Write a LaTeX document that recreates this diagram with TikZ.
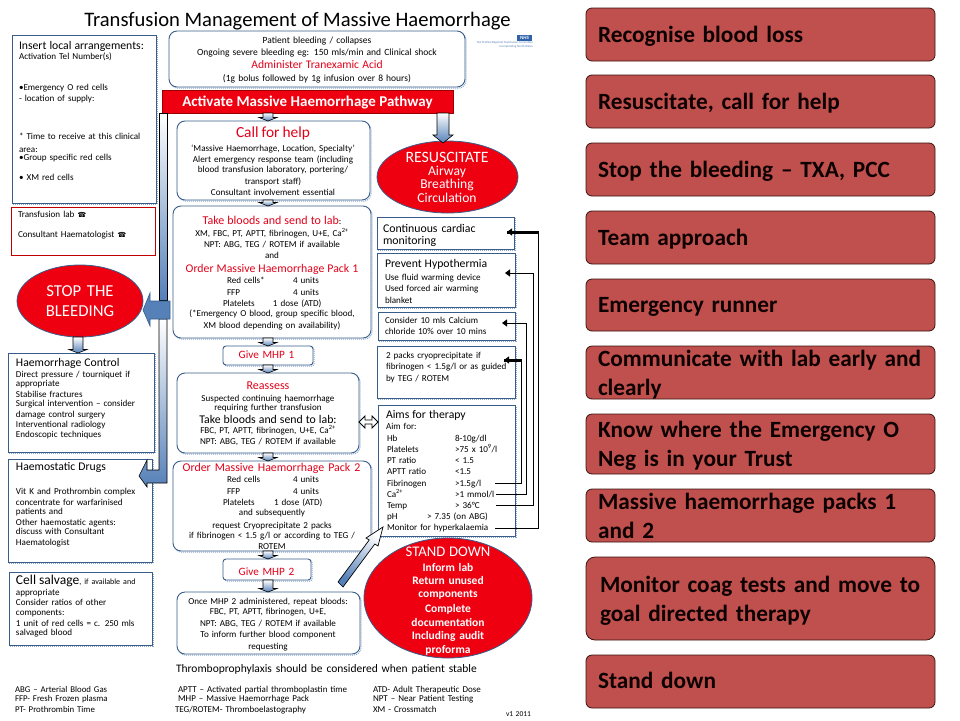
\documentclass[tikz,border=0pt]{standalone}
\usepackage{fontspec}
\setmainfont{Carlito}
\newfontfamily\djv{DejaVu Sans}
\newfontfamily\slidefont[WordSpace=0.75]{Carlito}
\usetikzlibrary{calc,shapes.geometric,arrows.meta}
\definecolor{boxc}{HTML}{385D8A}
\definecolor{shadc}{HTML}{8FA8CC}
\definecolor{redt}{HTML}{E2001A}
\definecolor{redf}{HTML}{EE0010}
\definecolor{arrowb}{HTML}{5580B8}
\definecolor{slidef}{HTML}{C0504D}
\definecolor{slideb}{HTML}{3A1412}
\definecolor{nhsb}{HTML}{2F62A8}
\newcommand\tightlines{\lineskiplimit-100pt\relax}
\tikzset{
 x=1pt,y=-1pt,
 boxbase/.style={rectangle,inner sep=0pt,outer sep=0pt,draw=boxc,line width=0.9pt,fill=white,
   preaction={draw=shadc,line width=1pt,densely dotted,transform canvas={xshift=1.2pt,yshift=-1.2pt}}},
 plainbox/.style={boxbase},
 roundbox/.style={boxbase,rounded corners=8pt},
 redbox/.style={rectangle,inner sep=0pt,outer sep=0pt,draw=red!75!black,line width=1pt,fill=white},
 redbar/.style={rectangle,inner sep=0pt,outer sep=0pt,draw=red!60!black,line width=.8pt,fill=redf},
 redell/.style={ellipse,inner sep=0pt,outer sep=0pt,draw=boxc,line width=.8pt,fill=redf},
 slide/.style={rectangle,rounded corners=6pt,inner sep=0pt,outer sep=0pt,draw=slideb,line width=.8pt,fill=slidef},
 slidetxt/.style={anchor=base west,inner sep=0pt,outer sep=0pt,text width=335pt,align=left,text=black!95!red,font=\slidefont\fontsize{23.3}{29}\selectfont\bfseries\tightlines},
 blockarr/.style={draw=black,line width=.6pt,top color=white,bottom color=arrowb},
 conn/.style={draw=black,line width=1pt,-{Triangle[length=5pt,width=7pt]}},
 connthick/.style={draw=black,line width=1pt},
}
\newcommand\bx[6]{\node[#1,minimum width={(#5-#3)*1pt},minimum height={(#6-#4)*1pt}] (#2) at ({(#3+#5)/2},{(#4+#6)/2}) {};}
\newcommand\tl[6]{\node[anchor=base west,inner sep=0pt,outer sep=0pt,text width=#4pt,align=left,font=\fontsize{#5}{10}\selectfont\tightlines] (#1) at (#2,#3) {#6};}
\newcommand\tc[6]{\node[anchor=base,inner sep=0pt,outer sep=0pt,text width=#4pt,align=center,font=\fontsize{#5}{10}\selectfont\tightlines] (#1) at (#2,#3) {#6};}
\newcommand\sz[2]{{\fontsize{#1}{10}\selectfont #2}}
\newcommand\rd[1]{{\color{redt}#1}}
\newcommand\wh[1]{{\color{white}#1}}
\newcommand\supp[1]{\textsuperscript{#1}}
% block arrow pointing down between two named nodes, at a given x
\newcommand\bdown[3]{\path[blockarr] let \p1=(#2.south),\p2=(#3.north) in
  ({(#1-5)*1pt},\y1) -- ({(#1+5)*1pt},\y1) -- ({(#1+5)*1pt},\y2+3.5pt) -- ({(#1+9)*1pt},\y2+3.5pt) -- ({#1*1pt},\y2) -- ({(#1-9)*1pt},\y2+3.5pt) -- ({(#1-5)*1pt},\y2+3.5pt) -- cycle;}
\begin{document}
\begin{tikzpicture}
\useasboundingbox (0,0) rectangle (960,720);
% title
\node[anchor=base,inner sep=0pt,font=\fontsize{20.6}{24}\selectfont] (title) at (297.5,26.5) {Transfusion Management of Massive Haemorrhage};
% left column
\bx{plainbox}{local}{12}{35}{156}{203}
\bx{redbox}{lab}{11}{207}{155}{255}
\bx{redell}{stop}{17}{265}{143}{337}
\bx{plainbox}{control}{8}{353}{154}{452}
\bx{plainbox}{drugs}{8}{459}{152}{562}
\bx{plainbox}{salvage}{9}{572}{152}{645}
% centre column
\bx{roundbox}{patient}{169}{31}{465}{87}
\bx{redbar}{activate}{162}{90}{453}{113}
\bx{roundbox}{call}{177}{121}{370}{200}
\bx{roundbox}{take}{173}{206}{371}{338}
\bx{boxbase,rounded corners=3pt}{give1}{223}{346}{313}{365}
\bx{roundbox}{reassess}{177}{373}{359}{453}
\bx{roundbox}{order2}{173}{461}{371}{551}
\bx{boxbase,rounded corners=3pt}{give2}{223}{559}{311}{580}
\bx{roundbox}{once}{177}{592}{360}{654}
% right of centre
\bx{redell}{resus}{377}{141}{518}{213}
\bx{plainbox}{cardiac}{377}{217}{514}{249}
\bx{plainbox}{hypo}{377}{253}{515}{307}
\bx{plainbox}{calcium}{378}{312}{515}{340}
\bx{plainbox}{cryo}{377}{346}{515}{398}
\bx{plainbox}{aims}{378}{405}{515}{536}
\bx{redell}{standdown}{364}{538}{532}{658}
% NHS logo
\bx{rectangle,inner sep=0pt,fill=nhsb}{nhs}{517}{35}{532}{41}
\node[inner sep=0pt,text=white,font=\fontsize{5}{5}\selectfont\bfseries\itshape] (nhstxt) at (nhs.center) {NHS};
\node[anchor=base east,inner sep=0pt,text=nhsb!80,align=right,font=\fontsize{3.1}{4.4}\selectfont] (nhsname) at (533,47.5) {North West Regional Transfusion Committee\\Incorporating North Wales};
% block arrows
\bdown{268}{activate}{call}
\bdown{268}{call}{take}
\bdown{268}{take}{give1}
\bdown{268}{give1}{reassess}
\bdown{268}{reassess}{order2}
\bdown{268}{order2}{give2}
\bdown{268}{give2}{once}
\bdown{78}{stop}{control}
\path[blockarr] (437,113) -- (449,113) -- (449,135) -- (453,135) -- (443,143) -- (433,135) -- (437,135) -- cycle;
% long side arrows
\path[blockarr] (159,319) -- (167,319) -- (167,483) -- (147,483) -- (147,487) -- (139,476) -- (147,460) -- (147,470) -- (159,470) -- cycle;
\path[blockarr] (159.5,113) -- (167.5,113) -- (167.5,300) -- (159.5,300) -- cycle;
\path[draw=boxc,line width=.6pt,fill=arrowb] (170,301) -- (170,319) -- (150,319) -- (150,326) -- (143,310) -- (150,293) -- (150,301) -- cycle;
% double arrow
\path[draw=black,line width=.8pt,fill=white] (359,422) -- (365,416) -- (365,420) -- (372,420) -- (372,416) -- (378,422) -- (372,428) -- (372,424) -- (365,424) -- (365,428) -- cycle;
% diagonal arrow
\path[draw=black,line width=.7pt,top color=white,bottom color=arrowb,shading angle=-36] (338,582) -- (343,587) -- (374.8,544) -- (378,546) -- (383,527) -- (366,538) -- (369.2,540) -- cycle;
% texts: title block and left column
\tl{tlocal}{19}{49}{136}{9.1}{\sz{11.7}{Insert local arrangements:}\\Activation Tel Number(s)\\[21pt]•Emergency O red cells\\[1pt]- location of supply:\\[28pt]* Time to receive at this clinical\\[3pt]area:\\[-2pt]•Group specific red cells\\[10pt]• XM red cells}
\tl{tlab}{18}{217}{136}{9.1}{Transfusion lab {\djv\fontsize{7}{10}\selectfont ☎}\\[10pt]Consultant Haematologist {\djv\fontsize{7}{10}\selectfont ☎}}
\tc{tstop}{80}{296}{120}{16.7}{\wh{STOP THE}\\[10pt]\wh{BLEEDING}}
\tl{tcontrol}{16}{366}{137}{9.1}{\sz{11.7}{Haemorrhage Control}\\[1pt]Direct pressure / tourniquet if\\[-1pt]appropriate\\[1pt]Stabilise fractures\\[-1pt]Surgical intervention – consider\\[1pt]damage control surgery\\Interventional radiology\\Endoscopic techniques}
\tl{tdrugs}{16}{470}{135}{9.1}{\sz{11.7}{Haemostatic Drugs}\\[14pt]Vit K and Prothrombin complex\\[1pt]concentrate for warfarinised\\[-1pt]patients and\\[1pt]Other haemostatic agents:\\[-1pt]discuss with Consultant\\[1pt]Haematologist}
\tl{tsalvage}{16}{584}{135}{9.1}{\sz{13.5}{Cell salvage}\sz{8}{, if available and}\\[1pt]appropriate\\Consider ratios of other\\components:\\[1pt]1 unit of red cells = c. 250 mls\\[-1pt]salvaged blood}
% centre texts
\tc{tpatient}{317}{43}{290}{9.5}{Patient bleeding / collapses\\[2pt]Ongoing severe bleeding eg: 150 mls/min and Clinical shock\\[3pt]\rd{\sz{11.6}{Administer Tranexamic Acid}}\\[3pt](1g bolus followed by 1g infusion over 8 hours)}
\node[anchor=base,inner sep=0pt,text=white,font=\fontsize{15}{16}\selectfont\bfseries] (tactivate) at (307.5,106) {Activate Massive Haemorrhage Pathway};
\tc{tcall}{273}{137}{190}{9.1}{\rd{\sz{15.4}{Call for help}}\\[4pt]‘Massive Haemorrhage, Location, Specialty’\\[1pt]Alert emergency response team (including\\blood transfusion laboratory, portering/\\[2pt]transport staff)\\[1pt]Consultant involvement essential}
\tc{ttake}{272}{224}{196}{9.1}{\rd{\sz{12}{Take bloods and send to lab}}:\\[2pt]XM, FBC, PT, APTT, fibrinogen, U+E, Ca\supp{2+}\\[1pt]NPT: ABG, TEG / ROTEM if available\\[1pt]and\\[4pt]\rd{\sz{11.8}{Order Massive Haemorrhage Pack 1}}}
\tl{ttab1}{227}{283}{140}{9.1}{\makebox[66pt][l]{Red cells*}4 units\\[2pt]\makebox[66pt][l]{FFP}4 units\\[1pt]\hspace*{-4pt}\makebox[50pt][l]{Platelets}1 dose (ATD)}
\tc{ttake2}{272}{316}{196}{9.1}{(*Emergency O blood, group specific blood,\\[2pt]XM blood depending on availability)}
\tc{tgive1}{266.5}{358}{86}{11.2}{\rd{Give MHP 1}}
\tc{treassess}{268}{389}{180}{9.1}{\rd{\sz{12}{Reassess}}\\[2pt]Suspected continuing haemorrhage\\[-1pt]requiring further transfusion\\[3pt]\sz{11.8}{Take bloods and send to lab:}\\FBC, PT, APTT, fibrinogen, U+E, Ca\supp{2+}\\[1pt]NPT: ABG, TEG / ROTEM if available}
\tc{torder2}{271.5}{471}{196}{11.9}{\rd{Order Massive Haemorrhage Pack 2}}
\tl{ttab2}{227}{482}{140}{9.1}{\makebox[66pt][l]{Red cells}4 units\\[2pt]\makebox[66pt][l]{FFP}4 units\\[1pt]\hspace*{-4pt}\makebox[51pt][l]{Platelets}1 dose (ATD)}
\tc{torder2b}{272}{515}{196}{9.1}{and subsequently\\[3pt]request Cryoprecipitate 2 packs\\if fibrinogen < 1.5 g/l or according to TEG /\\[1pt]ROTEM}
\tc{tgive2}{266.5}{575}{86}{11.2}{\rd{Give MHP 2}}
\tc{tonce}{268}{604}{180}{9.1}{Once MHP 2 administered, repeat bloods:\\FBC, PT, APTT, fibrinogen, U+E,\\[2pt]NPT: ABG, TEG / ROTEM if available\\[1pt]To inform further blood component\\[2pt]requesting}
\tl{tthrombo}{176}{672}{310}{11.5}{Thromboprophylaxis should be considered when patient stable}
% right-of-centre texts
\tc{tresus}{447}{162}{130}{13.6}{\wh{\sz{15.8}{RESUSCITATE}}\\[3pt]\wh{Airway}\\[3pt]\wh{Breathing}\\[4pt]\wh{Circulation}}
\tl{tcardiac}{383}{232}{130}{11.8}{Continuous cardiac\\[2pt]monitoring}
\tl{thypo}{385}{267}{128}{9.1}{\sz{11.7}{Prevent Hypothermia}\\[3pt]Use fluid warming device\\[1pt]Used forced air warming\\[2pt]blanket}
\tl{tcalcium}{385}{323}{128}{9.1}{Consider 10 mls Calcium\\[1pt]chloride 10\% over 10 mins}
\tl{tcryo}{386}{358}{128}{9.1}{2 packs cryoprecipitate if\\[1pt]fibrinogen < 1.5g/l or as guided\\[2pt]by TEG / ROTEM}
\tl{taims}{386}{418}{128}{9.1}{\sz{11.7}{Aims for therapy}\\[1pt]Aim for:}
\tl{taimtab}{387}{441}{128}{9.1}{\makebox[68pt][l]{Hb}8-10g/dl\\[1pt]\makebox[68pt][l]{Platelets}>75 x 10\supp{9}/l\\[1pt]\makebox[68pt][l]{PT ratio}< 1.5\\[1pt]\makebox[68pt][l]{APTT ratio}<1.5\\[2pt]\makebox[68pt][l]{Fibrinogen}>1.5g/l\\[1pt]\makebox[68pt][l]{Ca\supp{2+}}>1 mmol/l\\[1pt]\makebox[68pt][l]{Temp}> 36°C\\[1pt]\makebox[40pt][l]{pH}> 7.35 (on ABG)\\[1pt]Monitor for hyperkalaemia}
\tc{tstand}{448}{556}{130}{11.5}{\wh{\sz{14.7}{STAND DOWN}}\\[5pt]\wh{\bfseries Inform lab}\\[3pt]\wh{\bfseries Return unused}\\[3pt]\wh{\bfseries components}\\[5pt]\wh{\bfseries Complete}\\[4pt]\wh{\bfseries documentation}\\[3pt]\wh{\bfseries Including audit}\\[4pt]\wh{\bfseries proforma}}
% footnotes
\tl{tfoot1}{15}{692}{150}{8.8}{ABG – Arterial Blood Gas\\[-1pt]FFP- Fresh Frozen plasma\\[1pt]PT- Prothrombin Time}
\tl{tfoot2}{175}{692}{190}{9}{\hspace*{3pt}APTT – Activated partial thromboplastin time\\[-1pt]\hspace*{3pt}MHP – Massive Haemorrhage Pack\\[1pt]TEG/ROTEM- Thromboelastography}
\tl{tfoot3}{373}{692}{130}{9}{ATD- Adult Therapeutic Dose\\[-1pt]NPT – Near Patient Testing\\[1pt]XM - Crossmatch}
\tl{tver}{506}{716}{40}{7.5}{v1 2011}
% connectors from the aims rows to the boxes
\coordinate (rowMon) at (495,528);
\coordinate (rowTemp) at (496,505);
\coordinate (rowCa) at (496,494);
\coordinate (rowFib) at (495,483);
\coordinate (tipCard) at (507,232);
\coordinate (tipHypo) at (505,273);
\coordinate (tipCalc) at (502,323);
\coordinate (tipCryo) at (504,360);
\draw[conn] (rowMon) -- (538,528) -- (538,232) -- (tipCard);
\draw[conn] (rowTemp) -- (533,505) -- (533,273) -- (tipHypo);
\draw[conn] (rowCa) -- (526,494) -- (526,323) -- (tipCalc);
\draw[conn] (rowFib) -- (521,483) -- (521,360) -- (tipCryo);
\draw[connthick,line width=3pt] (538.5,232) -- (tipCard);
\draw[connthick,line width=3pt] (521.5,360) -- (tipCryo);
% slide column
\bx{slide}{s1}{586}{8}{935}{61}
\bx{slide}{s2}{586}{75}{935}{128}
\bx{slide}{s3}{586}{143}{935}{196}
\bx{slide}{s4}{586}{211}{935}{264}
\bx{slide}{s5}{586}{279}{935}{331}
\bx{slide}{s6}{586}{346}{935}{399}
\bx{slide}{s7}{586}{414}{935}{474}
\bx{slide}{s8}{586}{489}{935}{542}
\bx{slide,rounded corners=9pt}{s9}{586}{557}{935}{640}
\bx{slide}{s10}{586}{655}{935}{708}
\node[slidetxt] (st1) at (598,42) {Recognise blood loss};
\node[slidetxt] (st2) at (598,109) {Resuscitate, call for help};
\node[slidetxt] (st3) at (598,177) {Stop the bleeding – TXA, PCC};
\node[slidetxt] (st4) at (598,245) {Team approach};
\node[slidetxt] (st5) at (598,312) {Emergency runner};
\node[slidetxt] (st6) at (598,366) {Communicate with lab early and\\clearly};
\node[slidetxt] (st7) at (598,437) {Know where the Emergency O\\Neg is in your Trust};
\node[slidetxt] (st8) at (598,509) {Massive haemorrhage packs 1\\and 2};
\node[slidetxt] (st9) at (600,592) {Monitor coag tests and move to\\goal directed therapy};
\node[slidetxt] (st10) at (598,688) {Stand down};
\end{tikzpicture}
\end{document}
